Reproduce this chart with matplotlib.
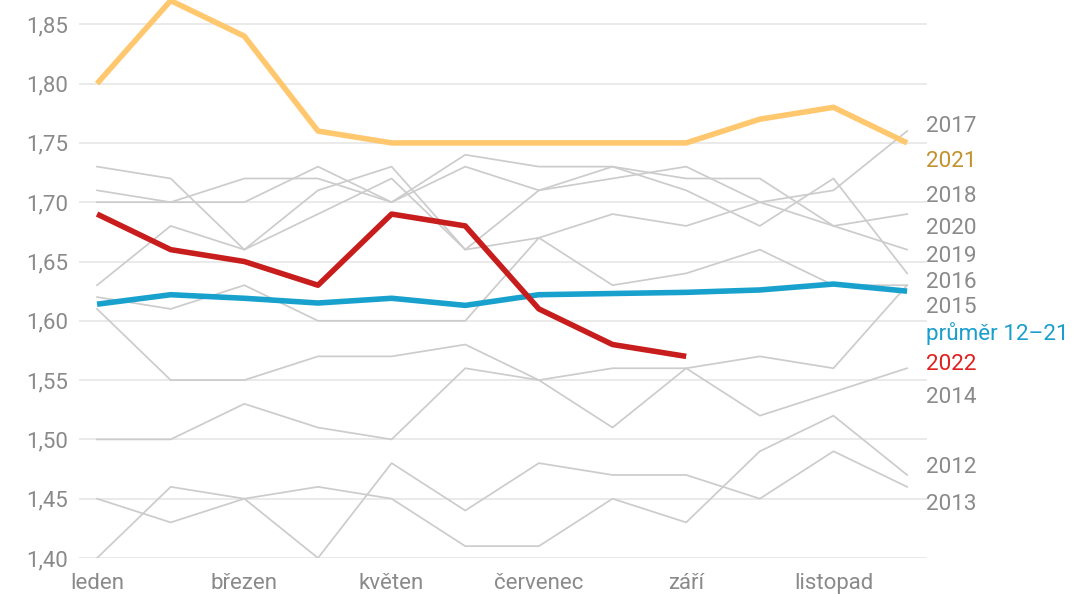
import matplotlib
matplotlib.use("Agg")
import matplotlib.pyplot as plt
from matplotlib.ticker import FixedLocator, FuncFormatter

plt.rcParams['font.family'] = ['Roboto', 'DejaVu Sans']

months = ["leden", "únor", "březen", "duben", "květen", "červen",
          "červenec", "srpen", "září", "říjen", "listopad", "prosinec"]
shown_months = ["leden", "březen", "květen", "červenec", "září", "listopad"]

y2012 = [1.45, 1.43, 1.45, 1.46, 1.45, 1.41, 1.41, 1.45, 1.43, 1.49, 1.52, 1.47]
y2013 = [1.40, 1.46, 1.45, 1.40, 1.48, 1.44, 1.48, 1.47, 1.47, 1.45, 1.49, 1.46]
y2014 = [1.50, 1.50, 1.53, 1.51, 1.50, 1.56, 1.55, 1.51, 1.56, 1.52, 1.54, 1.56]
y2015 = [1.61, 1.55, 1.55, 1.57, 1.57, 1.58, 1.55, 1.56, 1.56, 1.57, 1.56, 1.63]
y2016 = [1.62, 1.61, 1.63, 1.60, 1.60, 1.60, 1.67, 1.63, 1.64, 1.66, 1.63, 1.63]
y2017 = [1.73, 1.72, 1.66, 1.71, 1.73, 1.66, 1.67, 1.69, 1.68, 1.70, 1.71, 1.76]
y2018 = [1.71, 1.70, 1.72, 1.72, 1.70, 1.74, 1.73, 1.73, 1.72, 1.72, 1.68, 1.69]
y2019 = [1.70, 1.70, 1.70, 1.73, 1.70, 1.73, 1.71, 1.73, 1.71, 1.68, 1.72, 1.64]
y2020 = [1.63, 1.68, 1.66, 1.69, 1.72, 1.66, 1.71, 1.72, 1.73, 1.70, 1.68, 1.66]
y2021 = [1.80, 1.87, 1.84, 1.76, 1.75, 1.75, 1.75, 1.75, 1.75, 1.77, 1.78, 1.75]
y2022 = [1.69, 1.66, 1.65, 1.63, 1.69, 1.68, 1.61, 1.58, 1.57]
prumer = [1.614, 1.622, 1.619, 1.615, 1.619, 1.613, 1.622, 1.623, 1.624, 1.626, 1.631, 1.625]

gray_years = {"2012": y2012, "2013": y2013, "2014": y2014, "2015": y2015,
              "2016": y2016, "2017": y2017, "2018": y2018, "2019": y2019,
              "2020": y2020}

yticks = [1.40, 1.45, 1.50, 1.55, 1.60, 1.65, 1.70, 1.75, 1.80, 1.85]

# end-label texts and their (dodged) vertical positions
label_texts = ["2017", "2021", "2018", "2020", "2019", "2016", "2015",
               "průměr 12–21", "2022", "2014", "2012", "2013"]
label_pos = [1.764, 1.734, 1.705, 1.678, 1.654, 1.632, 1.611,
             1.589, 1.563, 1.535, 1.476, 1.445]

C_GRAY = "#cccccc"
C_2021 = "#ffc76e"
C_2022 = "#c71e1d"
C_AVG = "#18a1cd"
label_colors = {"2021": "#c3922e", "2022": "#e0201f", "průměr 12–21": "#1a9fcd"}

fig = plt.figure(figsize=(10.89, 5.94), dpi=100)
ax = fig.add_axes([79 / 1089, 1 - 558 / 594, (927 - 79) / 1089, 558 / 594])

x_all = list(range(len(months)))
for name, vals in gray_years.items():
    ax.plot(x_all, vals, color=C_GRAY, lw=1.25, zorder=2)
ax.plot(x_all, prumer, color=C_AVG, lw=4.0, zorder=4, solid_capstyle="butt")
ax.plot(x_all, y2021, color=C_2021, lw=4.0, zorder=3, clip_on=False,
        solid_capstyle="butt")
ax.plot(list(range(len(y2022))), y2022, color=C_2022, lw=4.0, zorder=5,
        solid_capstyle="butt")

ax.set_xlim(-0.245, 11.27)
ax.set_ylim(1.40, 1.8705)

ax.yaxis.set_major_locator(FixedLocator(yticks))
ax.yaxis.set_major_formatter(FuncFormatter(lambda v, p: f"{v:.2f}".replace(".", ",")))
ax.set_xticks([months.index(m) for m in shown_months])
ax.set_xticklabels(shown_months)

ax.grid(axis="y", color="#e6e6e6", lw=1.2, zorder=0)
ax.grid(axis="x", visible=False)
for s in ax.spines.values():
    s.set_visible(False)
ax.tick_params(axis="both", length=0, labelsize=16, colors="#8a8a8a")
ax.tick_params(axis="y", pad=8)
ax.tick_params(axis="x", pad=11)
ax.set_facecolor("none")

for txt, yv in zip(label_texts, label_pos):
    ax.text(11.26, yv, txt, fontsize=16.2, color=label_colors.get(txt, "#8a8a8a"),
            va="center", ha="left", clip_on=False)

fig.savefig("out.png", dpi=100, facecolor="white")
